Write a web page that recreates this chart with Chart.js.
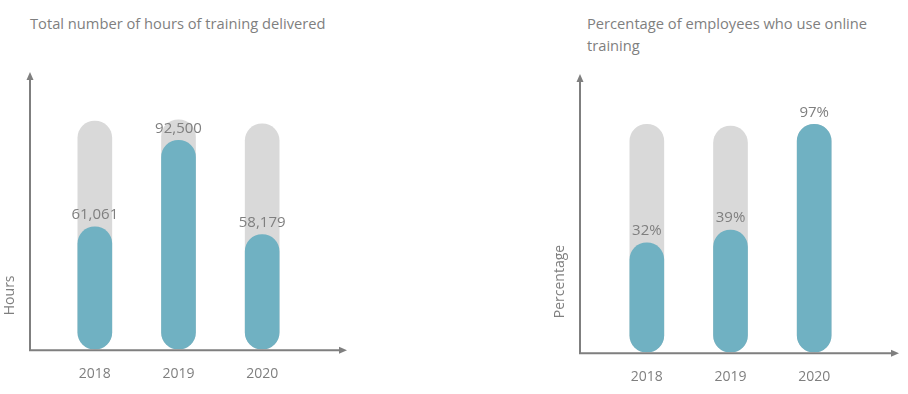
<!DOCTYPE html>
<html>
<head>
<meta charset="utf-8">
<script src="https://cdn.jsdelivr.net/npm/chart.js@4"></script>
<style>
    body { margin: 0; background: #fff; width: 908px; height: 394px; overflow: hidden; position: relative; font-family: "Open Sans", sans-serif; }
    .panel { position: absolute; top: 0; width: 454px; height: 410px; }
    .title { position: absolute; color: #7f7f7f; font-size: 14.7px; line-height: 22px; white-space: nowrap; }
</style>
</head>
<body>
<div class="title" style="left:30px; top:12px;">Total number of hours of training delivered</div>
<div class="title" style="left:587px; top:12px;">Percentage of employees who use online<br>training</div>
<div class="panel" style="left:0"><canvas id="hoursChart" width="454" height="410"></canvas></div>
<div class="panel" style="left:454px"><canvas id="onlineChart" width="454" height="410"></canvas></div>
<script>
// Data
const years = ['2018', '2019', '2020'];
const hoursDelivered = [61061, 92500, 58179];
const hoursTrack = [99500, 100000, 98500];
const onlinePercent = [32, 39, 97];
const onlineTrack = [97, 96, 97];

const TEAL = '#70b1c2';
const LIGHT_GRAY = '#d9d9d9';
const TEXT_GRAY = '#7f7f7f';

// Draws the arrow axes, the y title and the value labels
const axisArrows = {
    id: 'axisArrows',
    afterDatasetsDraw(chart, args, opts) {
        const ctx = chart.ctx;
        const area = chart.chartArea;
        const axisX = area.left - opts.leftGap;
        const baseY = area.bottom + 1;
        const topY = area.top - 1;
        const endX = area.right + 43;

        ctx.save();
        ctx.strokeStyle = TEXT_GRAY;
        ctx.fillStyle = TEXT_GRAY;
        ctx.lineWidth = 2;
        ctx.beginPath();
        ctx.moveTo(axisX, topY + 5);
        ctx.lineTo(axisX, baseY);
        ctx.lineTo(endX - 5, baseY);
        ctx.stroke();
        // arrow heads
        ctx.beginPath();
        ctx.moveTo(axisX, topY);
        ctx.lineTo(axisX - 3.5, topY + 8);
        ctx.lineTo(axisX + 3.5, topY + 8);
        ctx.closePath();
        ctx.fill();
        ctx.beginPath();
        ctx.moveTo(endX, baseY);
        ctx.lineTo(endX - 8, baseY - 3.5);
        ctx.lineTo(endX - 8, baseY + 3.5);
        ctx.closePath();
        ctx.fill();

        // y title
        ctx.font = '14px "Open Sans"';
        ctx.translate(axisX - 20, baseY - 35);
        ctx.rotate(-Math.PI / 2);
        ctx.textAlign = 'left';
        ctx.textBaseline = 'middle';
        ctx.fillText(opts.yTitle, 0, 0);
        ctx.restore();

        // value labels above the teal bars
        const meta = chart.getDatasetMeta(0);
        ctx.save();
        ctx.font = '15px "Open Sans"';
        ctx.fillStyle = TEXT_GRAY;
        ctx.textAlign = 'center';
        ctx.textBaseline = 'middle';
        meta.data.forEach((bar, i) => {
            const value = chart.data.datasets[0].data[i];
            ctx.fillText(opts.format(value), bar.x, bar.y - 12);
        });
        ctx.restore();
    }
};

function makeChart(id, values, track, yMin, yMax, padding, leftGap, yTitle, format) {
    const ctx = document.getElementById(id).getContext('2d');
    return new Chart(ctx, {
        type: 'bar',
        data: {
            labels: years,
            datasets: [{
                data: values,
                backgroundColor: TEAL,
                barThickness: 34,
                borderRadius: 17,
                borderSkipped: false,
                base: yMin,
                order: 1
            }, {
                data: track,
                backgroundColor: LIGHT_GRAY,
                barThickness: 34,
                borderRadius: 17,
                borderSkipped: false,
                base: yMin,
                order: 2
            }]
        },
        options: {
            responsive: false,
            animation: false,
            events: [],
            layout: { padding: padding },
            datasets: { bar: { grouped: false } },
            scales: {
                x: {
                    grid: { display: false, drawTicks: false },
                    border: { display: false },
                    ticks: {
                        color: TEXT_GRAY,
                        padding: 16,
                        font: { family: 'Open Sans', size: 14 }
                    }
                },
                y: {
                    display: false,
                    min: yMin,
                    max: yMax
                }
            },
            plugins: {
                legend: { display: false },
                tooltip: { enabled: false },
                axisArrows: { leftGap: leftGap, yTitle: yTitle, format: format }
            }
        },
        plugins: [axisArrows]
    });
}

document.addEventListener('DOMContentLoaded', function () {
    makeChart('hoursChart', hoursDelivered, hoursTrack, 16500, 117000,
        { left: 53, right: 150, top: 73, bottom: 12 }, 23, 'Hours',
        v => v.toLocaleString('en-US'));
    makeChart('onlineChart', onlinePercent, onlineTrack, -28, 124,
        { left: 151, right: 52, top: 75, bottom: 9 }, 25, 'Percentage',
        v => v + '%');
});
</script>
</body>
</html>
